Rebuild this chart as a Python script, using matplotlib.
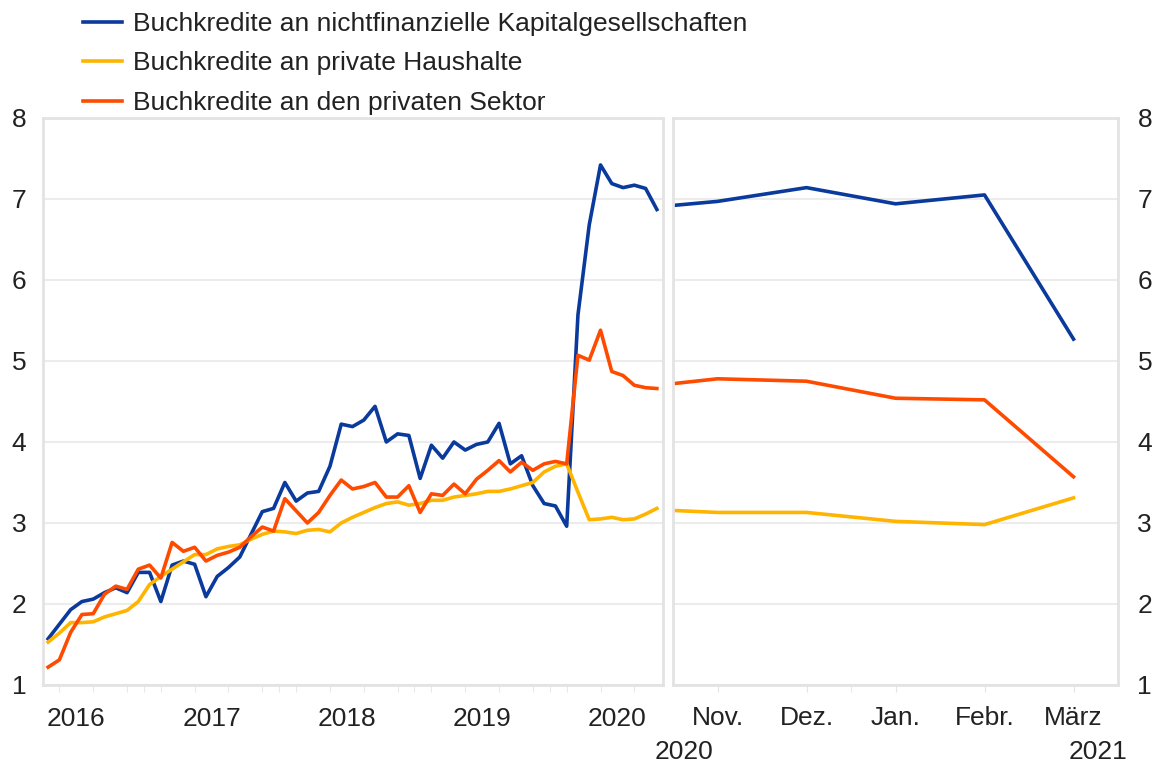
import numpy as np
import matplotlib
matplotlib.use("Agg")
import matplotlib.pyplot as plt
from matplotlib.lines import Line2D

# =========================
# Data
# =========================

# left panel: monthly, Apr 2016 .. Oct 2020
months_left = np.arange(55)
nfc = [1.57, 1.75, 1.93, 2.03, 2.06, 2.14, 2.20, 2.14, 2.39, 2.39,
       2.03, 2.48, 2.53, 2.49, 2.09, 2.34, 2.45, 2.58, 2.86, 3.14,
       3.18, 3.50, 3.27, 3.37, 3.39, 3.70, 4.22, 4.19, 4.27, 4.44,
       4.00, 4.10, 4.08, 3.55, 3.96, 3.80, 4.00, 3.90, 3.97, 4.00,
       4.23, 3.73, 3.83, 3.46, 3.24, 3.21, 2.96, 5.57, 6.68, 7.42,
       7.19, 7.14, 7.17, 7.13, 6.87]
households = [1.53, 1.64, 1.77, 1.77, 1.78, 1.84, 1.88, 1.92, 2.03, 2.24,
              2.34, 2.43, 2.52, 2.61, 2.61, 2.68, 2.71, 2.73, 2.80, 2.86,
              2.90, 2.89, 2.87, 2.91, 2.92, 2.89, 3.00, 3.07, 3.13, 3.19,
              3.24, 3.26, 3.22, 3.24, 3.28, 3.28, 3.32, 3.34, 3.36, 3.39,
              3.39, 3.42, 3.46, 3.50, 3.63, 3.70, 3.73, 3.38, 3.04, 3.05,
              3.07, 3.04, 3.05, 3.11, 3.18]
private = [1.22, 1.31, 1.65, 1.87, 1.88, 2.12, 2.22, 2.18, 2.43, 2.48,
           2.32, 2.76, 2.65, 2.70, 2.53, 2.60, 2.64, 2.70, 2.83, 2.95,
           2.90, 3.30, 3.15, 3.00, 3.13, 3.34, 3.53, 3.42, 3.45, 3.50,
           3.32, 3.32, 3.46, 3.13, 3.36, 3.34, 3.48, 3.36, 3.54, 3.65,
           3.77, 3.63, 3.75, 3.65, 3.73, 3.76, 3.73, 5.07, 5.01, 5.38,
           4.87, 4.82, 4.70, 4.67, 4.66]
years = ["2016", "2017", "2018", "2019", "2020"]

# right panel: Oct 2020 .. März 2021
months_right = np.arange(6)
nfc_r = [6.87, 6.97, 7.14, 6.94, 7.05, 5.27]
households_r = [3.18, 3.13, 3.13, 3.02, 2.98, 3.31]
private_r = [4.66, 4.78, 4.75, 4.54, 4.52, 3.57]
month_labels = ["Nov.", "Dez.", "Jan.", "Febr.", "März"]

labels = ["Buchkredite an nichtfinanzielle Kapitalgesellschaften",
          "Buchkredite an private Haushalte",
          "Buchkredite an den privaten Sektor"]

# =========================
# Style
# =========================

c_blue = '#0a3a9c'
c_yellow = '#FFB400'
c_orange = '#FF4B00'
c_grid = '#ececec'
c_frame = '#e3e3e3'
c_text = '#222222'
fs = 19
lw = 2.6

plt.rcParams['font.family'] = ['Liberation Sans', 'DejaVu Sans']

fig = plt.figure(figsize=(11.57, 7.65), dpi=100)
ax1 = fig.add_axes([0.0372, 0.1046, 0.5359, 0.7412])
ax2 = fig.add_axes([0.5817, 0.1046, 0.3846, 0.7412])

for ax in (ax1, ax2):
    ax.set_ylim(1, 8)
    ax.set_yticks(range(1, 9))
    ax.grid(True, axis='y', color=c_grid, linewidth=1.5)
    ax.set_axisbelow(True)
    for sp in ax.spines.values():
        sp.set_color(c_frame)
        sp.set_linewidth(2)
    ax.tick_params(axis='y', length=0, labelsize=fs, labelcolor=c_text, pad=12)
    ax.tick_params(axis='x', which='both', length=5, color=c_frame,
                   labelsize=fs, labelcolor=c_text)

# --- left panel ---
ax1.plot(months_left, nfc, color=c_blue, lw=lw)
ax1.plot(months_left, households, color=c_yellow, lw=lw)
ax1.plot(months_left, private, color=c_orange, lw=lw)
ax1.set_xlim(-0.45, 54.55)

# year labels centred on mid-year, small ticks quarterly + at year breaks
year_mid = np.arange(len(years)) * 12 + 2.5
ax1.set_xticks(year_mid)
ax1.set_xticklabels(years)
ax1.tick_params(axis='x', which='major', length=0, pad=16)
minor = list(np.arange(1, 55, 3)) + list(np.arange(8.5, 54, 12))
ax1.set_xticks(sorted(minor), minor=True)

# --- right panel ---
ax2.plot(months_right, nfc_r, color=c_blue, lw=lw)
ax2.plot(months_right, households_r, color=c_yellow, lw=lw)
ax2.plot(months_right, private_r, color=c_orange, lw=lw)
ax2.set_xlim(0.5, 5.5)
ax2.set_xticks(months_right[1:])
ax2.set_xticklabels(month_labels)
ax2.tick_params(axis='x', which='major', pad=10)
ax2.set_xticks([2.5], minor=True)
ax2.yaxis.tick_right()
ax2.tick_params(axis='y', pad=14)

trans = ax2.get_xaxis_transform()
ax2.text(0.62, -0.097, "2020", transform=trans, ha='center', va='top',
         fontsize=fs, color=c_text)
ax2.text(5.27, -0.097, "2021", transform=trans, ha='center', va='top',
         fontsize=fs, color=c_text)

# =========================
# Legend
# =========================

handles = [Line2D([], [], color=c, lw=lw) for c in (c_blue, c_yellow, c_orange)]
fig.legend(handles, labels, loc='upper left', bbox_to_anchor=(0.067, 0.991),
           frameon=False, fontsize=fs, labelcolor=c_text, handlelength=1.5,
           handletextpad=0.4, labelspacing=0.58, borderpad=0.2,
           borderaxespad=0)

fig.savefig("out.png", dpi=100)
